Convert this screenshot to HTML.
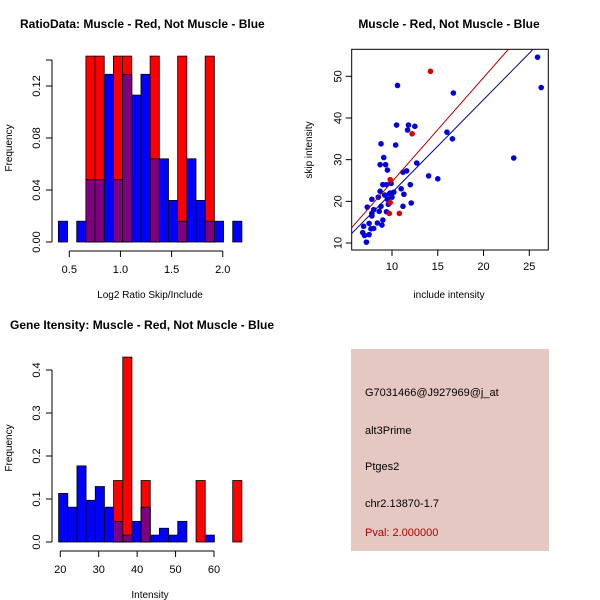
<!DOCTYPE html>
<html><head><meta charset="utf-8"><style>
html,body{margin:0;padding:0;background:#fff}
svg{display:block;font-family:"Liberation Sans",sans-serif}
</style></head><body>
<svg id="c" width="600" height="600" viewBox="0 0 600 600" xmlns="http://www.w3.org/2000/svg">
<text x="20" y="28" font-size="12" font-weight="bold">RatioData: Muscle - Red, Not Muscle - Blue</text>
<text x="449" y="28" font-size="12" font-weight="bold" text-anchor="middle">Muscle - Red, Not Muscle - Blue</text>
<text x="10" y="329" font-size="12" font-weight="bold">Gene Itensity: Muscle - Red, Not Muscle - Blue</text>
<g id="p1"></g>
<g id="p2"></g>
<g id="p3"></g>
<g>
<rect x="351" y="349" width="198" height="202" fill="#e6c8c2"/>
<text x="365" y="396" font-size="11">G7031466@J927969@j_at</text>
<text x="365" y="434" font-size="11">alt3Prime</text>
<text x="365" y="470" font-size="11">Ptges2</text>
<text x="365" y="507" font-size="11">chr2.13870-1.7</text>
<text x="365" y="536" font-size="11" fill="#b00000">Pval: 2.000000</text>
</g>
</svg>
<script>
// Histogram 1 data
const h1BlueVals=[0.016,0,0.016,0.048,0.048,0.129,0.048,0.129,0.113,0.129,0.064,0.064,0.032,0.016,0.064,0.032,0.016,0.016,0,0.016];
const h1RedVals=[0,0,0,0.143,0.143,0,0.143,0.143,0,0,0.143,0,0,0.143,0,0,0.143,0,0,0];
const h1BinStart=0.393, h1BinWidth=0.0897;
const h1XTicks=[0.5,1.0,1.5,2.0];
const h1YTicks=[0.00,0.04,0.08,0.12];
// Scatter data
const blueX=[6.8,7,6.9,7.2,7.3,7.5,7.5,7.7,7.8,7.8,7.8,8,8,8.4,8.5,8.6,8.7,8.7,8.8,8.8,8.9,9,9,9.1,9.2,9.3,9.4,9.4,9.5,9.5,9.6,9.7,9.8,9.9,10,10.2,10.4,10.5,10.6,11,11.2,11.3,11.2,11.6,11.7,11.8,12,12.1,12.5,12.7,14,15,16,16.6,16.7,23.3,25.9,26.3];
const blueY=[12.5,11.8,14,10.2,18.6,14.7,12,13.4,20.5,16.5,17.1,13.5,18,14.8,21,17.6,28.8,22.4,33.8,18.8,14.3,15.5,24,30.5,21.5,28.8,24,17.5,27.5,20.5,19.3,21.8,22,24.3,21,22.2,33.5,38.3,47.8,23,27,21.7,18.8,27.3,37.1,38.3,24,19.6,38,29.2,26.1,25.4,36.6,35,46,30.4,54.6,47.3];
const redX=[14.2,12.2,9.8,9.8,9.7,10.8];
const redY=[51.2,36.2,25.2,19.7,17.1,17.1];
const redFit=[-0.3,2.5], blueFit=[-0.2,2.23];
const scXTicks=[10,15,20,25], scYTicks=[10,20,30,40,50];
// Histogram 3 data
const h3BlueVals=[0.113,0.081,0.177,0.097,0.129,0.081,0.048,0.016,0.048,0.081,0.016,0.032,0.016,0.048,0,0,0.016,0,0,0];
const h3RedVals=[0,0,0,0,0,0,0.143,0.43,0,0.143,0,0,0,0,0,0.143,0,0,0,0.143];
const h3BinStart=19.56, h3BinWidth=2.385;
const h3XTicks=[20,30,40,50,60];
const h3YTicks=[0.0,0.1,0.2,0.3,0.4];

const NS="http://www.w3.org/2000/svg";
function mk(g,tag,attrs,txt){const e=document.createElementNS(NS,tag);for(const k in attrs)e.setAttribute(k,attrs[k]);if(txt!==undefined)e.textContent=txt;g.appendChild(e);return e;}

function hist(g,o){
  const sx=v=>o.x0+(v-o.xv0)*o.kx, sy=v=>o.y0-v*o.ky;
  const n=o.blue.length;
  for(let i=0;i<n;i++){
    const a=sx(o.start+i*o.w), b=sx(o.start+(i+1)*o.w);
    if(o.blue[i]>0){const r=mk(g,'rect',{x:a,y:sy(o.blue[i]),width:b-a,height:o.blue[i]*o.ky,fill:'#0000ff',stroke:'#000','stroke-width':0.8});
      
      }
  }
  for(let i=0;i<n;i++){
    const a=sx(o.start+i*o.w), b=sx(o.start+(i+1)*o.w);
    if(o.red[i]>0){const r=mk(g,'rect',{x:a,y:sy(o.red[i]),width:b-a,height:o.red[i]*o.ky,fill:'#ff0000',stroke:'#000','stroke-width':0.8});
      
      
      const m=Math.min(o.red[i],o.blue[i]);
      if(m>0){const p=mk(g,'rect',{x:a,y:sy(m),width:b-a,height:m*o.ky,fill:'#7f007f',stroke:'#000','stroke-width':0.8});
        
        }
    }
  }
  // y axis
  const yt=o.yt;
  mk(g,'line',{x1:o.ax,x2:o.ax,y1:sy(yt[0]),y2:sy(o.ymax),stroke:'#000'});
  yt.concat(o.ymax!==yt[yt.length-1]&&o.extraTop?[o.ymax]:[]).forEach(v=>mk(g,'line',{x1:o.ax-6,x2:o.ax,y1:sy(v),y2:sy(v),stroke:'#000'}));
  yt.forEach(v=>{const t=mk(g,'text',{x:o.ax-12,y:sy(v),'font-size':11,'text-anchor':'middle',transform:`rotate(-90 ${o.ax-12} ${sy(v)})`},v.toFixed(o.yd));
    
    });
  // x axis
  const xt=o.xt;
  mk(g,'line',{x1:sx(xt[0]),x2:sx(xt[xt.length-1]),y1:o.ay,y2:o.ay,stroke:'#000'});
  xt.forEach(v=>{mk(g,'line',{x1:sx(v),x2:sx(v),y1:o.ay,y2:o.ay+6,stroke:'#000'});
    const t=mk(g,'text',{x:sx(v),y:o.ay+22,'font-size':11,'text-anchor':'middle'},v.toFixed(o.xd));
    
    });
  mk(g,'text',{x:o.xlx,y:o.ay+47,'font-size':10,'text-anchor':'middle'},o.xlab);
  mk(g,'text',{x:12,y:o.yly,'font-size':10,'text-anchor':'middle',transform:`rotate(-90 12 ${o.yly})`},'Frequency');
}
hist(document.getElementById('p1'),{blue:h1BlueVals,red:h1RedVals,start:h1BinStart,w:h1BinWidth,x0:69.3,xv0:0.5,kx:102.3,y0:242,ky:1300,ax:52,ay:251,xt:h1XTicks,yt:h1YTicks,ymax:0.14,extraTop:true,xd:1,yd:2,xlab:'Log2 Ratio Skip/Include',xlx:150,yly:148});
hist(document.getElementById('p3'),{blue:h3BlueVals,red:h3RedVals,start:h3BinStart,w:h3BinWidth,x0:60.3,xv0:20,kx:3.842,y0:542,ky:430,ax:52,ay:551,xt:h3XTicks,yt:h3YTicks,ymax:0.4,xd:0,yd:1,xlab:'Intensity',xlx:150,yly:448});

// scatter
(function(){
  const g=document.getElementById('p2');
  const sx=v=>392+(v-10)*9.153, sy=v=>243-(v-10)*4.167;
  const L=351.7,R=548.3,T=49.3,B=250;
  mk(g,'rect',{x:L,y:T,width:R-L,height:B-T,fill:'none',stroke:'#000'});
  const cp=mk(g,'clipPath',{id:'sc'});mk(cp,'rect',{x:L,y:T,width:R-L,height:B-T});
  blueX.forEach((x,i)=>{const c=mk(g,'circle',{cx:sx(x),cy:sy(blueY[i]),r:2.8,fill:'#0000dd'});
    
    });
  redX.forEach((x,i)=>{const c=mk(g,'circle',{cx:sx(x),cy:sy(redY[i]),r:2.8,fill:'#dd0000'});
    
    });
  const xa=5,xb=30;
  const rl=mk(g,'line',{x1:sx(xa),y1:sy(redFit[0]+redFit[1]*xa),x2:sx(xb),y2:sy(redFit[0]+redFit[1]*xb),stroke:'#b00000','clip-path':'url(#sc)'});
  
  
  const bl=mk(g,'line',{x1:sx(xa),y1:sy(blueFit[0]+blueFit[1]*xa),x2:sx(xb),y2:sy(blueFit[0]+blueFit[1]*xb),stroke:'#000090','clip-path':'url(#sc)'});
  
  
  scXTicks.forEach(v=>{mk(g,'line',{x1:sx(v),x2:sx(v),y1:B,y2:B+6,stroke:'#000'});
    const t=mk(g,'text',{x:sx(v),y:B+20,'font-size':11,'text-anchor':'middle'},v);
    
    });
  scYTicks.forEach(v=>{mk(g,'line',{x1:L-6,x2:L,y1:sy(v),y2:sy(v),stroke:'#000'});
    const t=mk(g,'text',{x:L-10,y:sy(v),'font-size':11,'text-anchor':'middle',transform:`rotate(-90 ${L-10} ${sy(v)})`},v);
    
    });
  mk(g,'text',{x:449,y:298,'font-size':10,'text-anchor':'middle'},'include intensity');
  mk(g,'text',{x:312,y:150,'font-size':10,'text-anchor':'middle',transform:'rotate(-90 312 150)'},'skip intensity');
})();
</script>
</body></html>
